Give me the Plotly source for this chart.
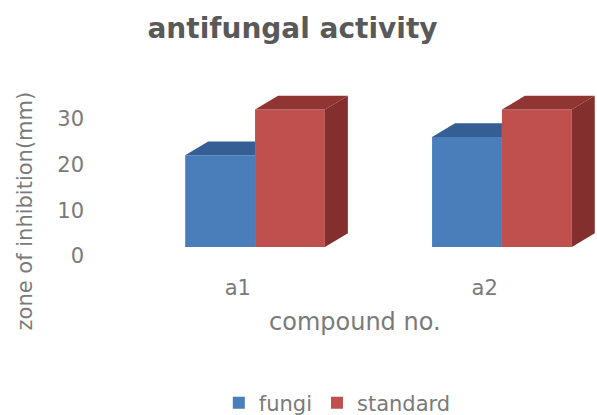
import plotly.graph_objects as go

# Zone of inhibition (mm) for each compound
compounds = ["a1", "a2"]
fungi = [20, 24]
standard = [30, 30]

# Styling
FONT = "DejaVu Sans"
TEXT_GRAY = "#7a7a7a"
TITLE_GRAY = "#595959"
BLUE_FRONT, BLUE_TOP = "#4a7ebb", "#355f94"
RED_FRONT, RED_TOP, RED_SIDE = "#c0504d", "#903532", "#822f2d"

W = 0.283      # bar width in category units
DX = 0.093     # depth offset along x (category units)
DY = 3.0       # depth offset along y (value units)

idx = list(range(len(compounds)))

fig = go.Figure()

fig.add_trace(go.Bar(
    x=idx, y=fungi, name="fungi", width=W, offset=-W,
    marker=dict(color=BLUE_FRONT, line=dict(width=0)),
))
fig.add_trace(go.Bar(
    x=idx, y=standard, name="standard", width=W, offset=0,
    marker=dict(color=RED_FRONT, line=dict(width=0)),
))


def face(xs, ys, color):
    fig.add_trace(go.Scatter(
        x=xs + [xs[0]], y=ys + [ys[0]], mode="lines", fill="toself",
        fillcolor=color, line=dict(width=0, color=color),
        showlegend=False, hoverinfo="skip",
    ))


# 3-D faces: the fungi column's right side sits behind the standard column,
# so only the visible part of its top face is drawn.
for i, vf, vs in zip(idx, fungi, standard):
    x0 = i - W
    face([x0, x0 + DX, i, i], [vf, vf + DY, vf + DY, vf], BLUE_TOP)
    x1 = i + W
    face([i, i + DX, x1 + DX, x1], [vs, vs + DY, vs + DY, vs], RED_TOP)
    face([x1, x1 + DX, x1 + DX, x1], [0, DY, vs + DY, vs], RED_SIDE)

fig.update_layout(
    width=597, height=415,
    margin=dict(l=100, r=0, t=82, b=168),
    paper_bgcolor="white", plot_bgcolor="white",
    font=dict(family=FONT, color=TEXT_GRAY),
    title=dict(
        text="<b>antifungal activity</b>", x=0.49, xref="container", xanchor="center",
        y=1 - 28 / 415, yref="container", yanchor="middle",
        font=dict(family=FONT, size=28, color=TITLE_GRAY),
    ),
    showlegend=True,
    legend=dict(
        orientation="h", x=0.565, xref="container", xanchor="center",
        y=1 - 403 / 415, yref="container", yanchor="middle",
        font=dict(family=FONT, size=21, color=TEXT_GRAY),
        itemwidth=30, tracegroupgap=0,
    ),
    xaxis=dict(
        range=[-0.628, 1.385],
        tickvals=[i - 0.07 for i in idx], ticktext=compounds,
        showgrid=False, zeroline=False, showline=False, ticks="",
        tickfont=dict(family=FONT, size=21, color=TEXT_GRAY),
        ticklabelstandoff=26,
    ),
    yaxis=dict(
        range=[0, 36], tickvals=[0, 10, 20, 30],
        showgrid=False, zeroline=False, showline=False, ticks="",
        tickfont=dict(family=FONT, size=21, color=TEXT_GRAY),
        ticklabelstandoff=15, ticklabelshift=9,
    ),
    annotations=[
        dict(text="zone of inhibition(mm)", xref="paper", yref="paper",
             x=-0.15, xanchor="center",
             y=1 - (211 - 82) / 165, yanchor="middle",
             textangle=-90, showarrow=False,
             font=dict(family=FONT, size=21, color=TEXT_GRAY)),
        dict(text="compound no.", xref="paper", yref="paper",
             x=(355 - 100) / 497, xanchor="center",
             y=-(322 - 247) / 165, yanchor="middle",
             showarrow=False,
             font=dict(family=FONT, size=24, color=TEXT_GRAY)),
    ],
)

fig.write_html("out.html")
